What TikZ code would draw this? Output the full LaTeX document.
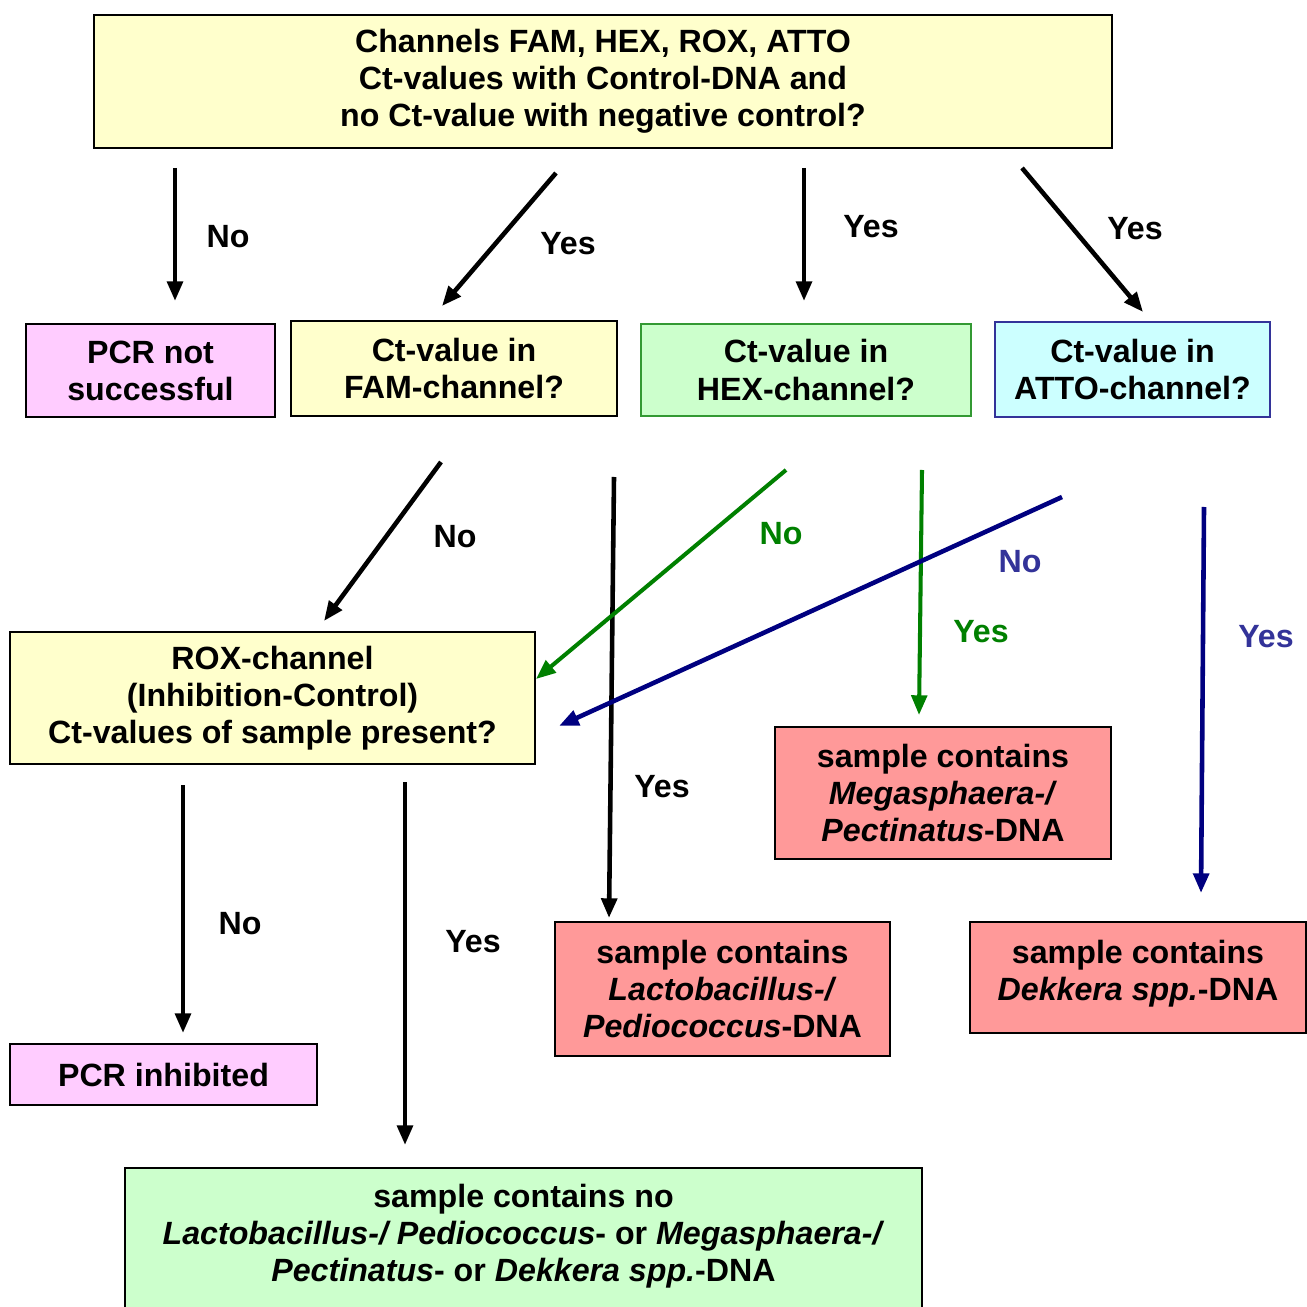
\documentclass[tikz,border=0pt]{standalone}
\usepackage{fontspec}
\setmainfont{Liberation Sans}
\usetikzlibrary{arrows.meta}
\definecolor{cYel}{HTML}{FFFFCC}
\definecolor{cPink}{HTML}{FFCCFF}
\definecolor{cGrn}{HTML}{CCFFCC}
\definecolor{cCyan}{HTML}{CCFFFF}
\definecolor{cRed}{HTML}{FF9999}
\definecolor{lGrn}{HTML}{008000}
\definecolor{bGrn}{HTML}{339933}
\definecolor{lNavy}{HTML}{000080}
\definecolor{tNavy}{HTML}{333399}
\begin{document}
\begin{tikzpicture}[x=0.01cm,y=-0.01cm,
  every node/.style={font=\fontsize{9.15}{10.53}\selectfont\bfseries, inner sep=0pt, align=center},
  box/.style={draw=black, line width=0.6pt, fill=#1},
  arr/.style={line width=1.3pt, -{Triangle[length=5.6pt,width=4.4pt]}},
  lbl/.style={text=black}
]
\useasboundingbox (0,0) rectangle (1306,1307);
% boxes
\node[box=cYel, minimum width=10.18cm, minimum height=1.33cm] (top) at (603,81.5)
  {Channels FAM, HEX, ROX, ATTO\\Ct-values with Control-DNA and\\no Ct-value with negative control?};
\node[box=cPink, minimum width=2.49cm, minimum height=0.93cm] (pcrns) at (150.5,370.5)
  {PCR not\\successful};
\node[box=cYel, minimum width=3.26cm, minimum height=0.95cm] (fam) at (454,368.5)
  {Ct-value in\\FAM-channel?};
\node[box=cGrn, draw=bGrn, minimum width=3.30cm, minimum height=0.92cm] (hex) at (806,370)
  {Ct-value in\\HEX-channel?};
\node[box=cCyan, draw=tNavy, minimum width=2.75cm, minimum height=0.95cm] (atto) at (1132.5,369.5)
  {Ct-value in\\ATTO-channel?};
\node[box=cYel, minimum width=5.25cm, minimum height=1.32cm] (rox) at (272.5,698)
  {ROX-channel\\(Inhibition-Control)\\Ct-values of sample present?};
\node[box=cRed, minimum width=3.36cm, minimum height=1.32cm] (mega) at (943,793)
  {sample contains\\\textit{Megasphaera-/}\\\textit{Pectinatus}-DNA};
\node[box=cRed, minimum width=3.35cm, minimum height=1.34cm] (lacto) at (722.5,989)
  {sample contains\\\textit{Lactobacillus-/}\\\textit{Pediococcus}-DNA};
\node[box=cRed, minimum width=3.36cm, minimum height=1.11cm] (dek) at (1138,977.5) {};
\node (dektext) at (1138,973.5)
  {sample contains\\\textit{Dekkera spp.}-DNA};
\node[box=cPink, minimum width=3.07cm, minimum height=0.61cm] (pcrinh) at (163.5,1074.5)
  {PCR inhibited};
\node[box=cGrn, minimum width=7.97cm, minimum height=1.63cm, anchor=north] (nobox) at (523.5,1167) {};
\node (notext) at (523.5,1236)
  {sample contains no\\\textit{Lactobacillus-/ Pediococcus}- or \textit{Megasphaera-/}\\\textit{Pectinatus}- or \textit{Dekkera spp.}-DNA};
% arrow end points
\coordinate (a1s) at (175,168);  \coordinate (a1e) at (175,301);
\coordinate (a2s) at (556,173);  \coordinate (a2e) at (442,306);
\coordinate (a3s) at (804,168);  \coordinate (a3e) at (804,301);
\coordinate (a4s) at (1022,168); \coordinate (a4e) at (1143,312);
\coordinate (a5s) at (441,462);  \coordinate (a5e) at (324,621);
\coordinate (a6s) at (614,477);  \coordinate (a6e) at (609,918);
\coordinate (a7s) at (786,470);  \coordinate (a7e) at (536,679);
\coordinate (a8s) at (922,470);  \coordinate (a8e) at (919,715);
\coordinate (a9s) at (1062,497); \coordinate (a9e) at (559,726);
\coordinate (a10s) at (1204,507); \coordinate (a10e) at (1201,893);
\coordinate (a11s) at (183,785); \coordinate (a11e) at (183,1033);
\coordinate (a12s) at (405,782); \coordinate (a12e) at (405,1145);
% connectors
\draw[arr] (a1s) -- (a1e);
\draw[arr] (a2s) -- (a2e);
\draw[arr] (a3s) -- (a3e);
\draw[arr] (a4s) -- (a4e);
\draw[arr] (a5s) -- (a5e);
\draw[arr] (a6s) -- (a6e);
\draw[arr, lGrn, line width=1.15pt] (a7s) -- (a7e);
\draw[arr, lGrn, line width=1.15pt] (a8s) -- (a8e);
\draw[arr, lNavy] (a9s) -- (a9e);
\draw[arr, lNavy] (a10s) -- (a10e);
\draw[arr] (a11s) -- (a11e);
\draw[arr] (a12s) -- (a12e);
% labels
\node[lbl] (l1) at (228,237) {No};
\node[lbl] (l2) at (568,244) {Yes};
\node[lbl] (l3) at (871,227) {Yes};
\node[lbl] (l4) at (1135,229) {Yes};
\node[lbl] (l5) at (455,537) {No};
\node[lbl] (l6) at (662,787) {Yes};
\node[text=lGrn] (l7) at (781,534) {No};
\node[text=lGrn] (l8) at (981,632) {Yes};
\node[text=tNavy] (l9) at (1020,562) {No};
\node[text=tNavy] (l10) at (1266,637) {Yes};
\node[lbl] (l11) at (240,924) {No};
\node[lbl] (l12) at (473,942) {Yes};
\end{tikzpicture}
\end{document}
